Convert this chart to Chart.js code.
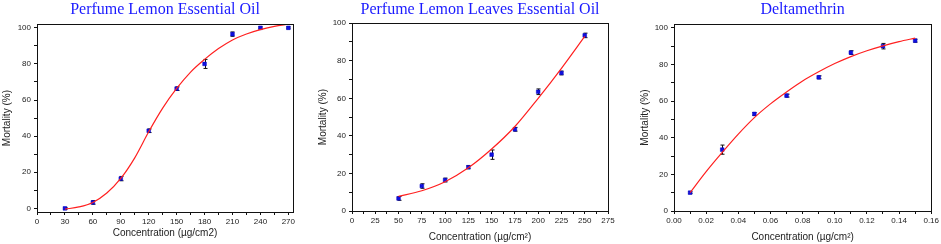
<!DOCTYPE html>
<html>
<head>
<meta charset="utf-8">
<script src="https://cdn.jsdelivr.net/npm/chart.js@4.4.1/dist/chart.umd.min.js"></script>
<style>
  html, body { margin: 0; padding: 0; background: #fff; }
  #wrap { position: relative; width: 941px; height: 244px; }
  canvas { position: absolute; top: 0; }
</style>
</head>
<body>
<div id="wrap">
  <canvas id="c1" width="310" height="244" style="left:0px"></canvas>
  <canvas id="c2" width="310" height="244" style="left:310px"></canvas>
  <canvas id="c3" width="321" height="244" style="left:620px"></canvas>
</div>
<script>
// Perfume Lemon Essential Oil
const lemonX = [30, 60, 90, 120, 150, 180, 210, 240, 270];
const lemonY = [0, 3.3, 16.5, 43, 66.3, 80, 96.5, 100, 100];
const lemonErr = [0.5, 1, 1.2, 1, 1, 2.5, 1.2, 0.5, 0.5];
const lemonFitX = [30, 45, 60, 75, 90, 105, 120, 135, 150, 165, 180, 195, 210, 225, 240, 255, 270];
const lemonFitY = [-0.4, 0.8, 3.3, 8.5, 16.6, 28, 42.4, 55.5, 66.4, 75.5, 82.5, 88.5, 93.3, 96.6, 99, 100.8, 102];

// Perfume Lemon Leaves Essential Oil
const leavesX = [50, 75, 100, 125, 150, 175, 200, 225, 250];
const leavesY = [6.7, 13.3, 16.5, 23.3, 30, 43.5, 63.5, 73.5, 93.5];
const leavesErr = [1, 1.2, 1, 0.8, 2.5, 1, 1.5, 1, 1.2];
const leavesFitX = [50, 75, 100, 125, 150, 175, 200, 225, 250];
const leavesFitY = [7.8, 10.8, 15.6, 23, 33, 45, 60, 76, 93];

// Deltamethrin
const deltaX = [0.01, 0.03, 0.05, 0.07, 0.09, 0.11, 0.13, 0.15];
const deltaY = [10, 33.5, 53, 63, 73, 86.5, 90, 93];
const deltaErr = [0.5, 2.5, 0.8, 0.8, 0.8, 1, 1.5, 0.8];
const deltaFitX = [0.01, 0.02, 0.03, 0.04, 0.05, 0.06, 0.07, 0.08, 0.09, 0.10, 0.11, 0.12, 0.13, 0.14, 0.15];
const deltaFitY = [10, 21.5, 32, 42, 51, 58.5, 65, 71, 76, 80.5, 84.3, 87.5, 90.2, 92.5, 94.4];

const toPoints = (xs, ys) => xs.map((x, i) => ({ x: x, y: ys[i] }));

// box round the plot + error bars
const framePlugin = {
  id: 'frame',
  beforeDatasetsDraw(chart, args, opts) {
    const ctx = chart.ctx;
    const xs = chart.scales.x, ys = chart.scales.y;
    const pts = chart.data.datasets[1].data;
    ctx.save();
    ctx.strokeStyle = '#111';
    ctx.lineWidth = 1;
    (opts.err || []).forEach((e, i) => {
      const px = Math.round(xs.getPixelForValue(pts[i].x)) + 0.5;
      const y1 = ys.getPixelForValue(pts[i].y - e);
      const y2 = ys.getPixelForValue(pts[i].y + e);
      ctx.beginPath();
      ctx.moveTo(px, y1); ctx.lineTo(px, y2);
      ctx.moveTo(px - 2, y1); ctx.lineTo(px + 2, y1);
      ctx.moveTo(px - 2, y2); ctx.lineTo(px + 2, y2);
      ctx.stroke();
    });
    ctx.restore();
  },
  afterDraw(chart) {
    const a = chart.chartArea, ctx = chart.ctx;
    ctx.save();
    ctx.strokeStyle = '#111';
    ctx.lineWidth = 1;
    ctx.strokeRect(Math.round(a.left) + 0.5, Math.round(a.top) + 0.5,
      Math.round(a.right - a.left), Math.round(a.bottom - a.top));
    ctx.restore();
  }
};

function makeChart(id, cfg) {
  new Chart(document.getElementById(id), {
    type: 'scatter',
    data: {
      datasets: [
        {
          data: toPoints(cfg.fitX, cfg.fitY),
          showLine: true,
          borderColor: '#ff2020',
          borderWidth: 1.2,
          pointRadius: 0,
          cubicInterpolationMode: 'monotone'
        },
        {
          data: toPoints(cfg.x, cfg.y),
          pointStyle: 'rect',
          pointRadius: 2.6,
          backgroundColor: '#1010e0',
          borderColor: '#0000c0',
          borderWidth: 0.5
        }
      ]
    },
    options: {
      responsive: false,
      animation: false,
      devicePixelRatio: 1,
      layout: { padding: { left: 0, right: cfg.padRight, top: 0, bottom: 0 } },
      plugins: {
        legend: { display: false },
        tooltip: { enabled: false },
        title: {
          display: true,
          text: cfg.title,
          color: '#1a1aff',
          fullSize: false,
          font: { family: 'Liberation Serif', size: 16, weight: 'normal' },
          padding: { top: 0, bottom: cfg.titlePad }
        },
        frame: { err: cfg.err }
      },
      scales: {
        x: {
          type: 'linear',
          min: cfg.xMin, max: cfg.xMax,
          afterFit: s => { s.height = cfg.xAxisH; },
          border: { color: '#111', width: 1 },
          grid: { drawOnChartArea: false, tickLength: 3, tickColor: '#111' },
          ticks: {
            stepSize: cfg.xStep,
            includeBounds: false,
            maxRotation: 0,
            autoSkip: false,
            padding: 2,
            color: '#222',
            font: { family: 'Liberation Sans', size: 8 },
            callback: cfg.xLabel
          },
          title: {
            display: true,
            text: cfg.xTitle,
            color: '#222',
            font: { family: 'Liberation Sans', size: 10 },
            padding: { top: 0, bottom: cfg.xTitlePad }
          }
        },
        y: {
          type: 'linear',
          min: cfg.yMin, max: cfg.yMax,
          afterFit: s => { s.width = cfg.yAxisW; },
          border: { color: '#111', width: 1 },
          grid: { drawOnChartArea: false, tickLength: 3, tickColor: '#111' },
          ticks: {
            stepSize: 10,
            includeBounds: false,
            autoSkip: false,
            padding: 3,
            color: '#222',
            font: { family: 'Liberation Sans', size: 8 },
            callback: v => (Math.round(v) % 20 === 0 ? String(Math.round(v)) : '')
          },
          title: {
            display: true,
            text: 'Mortality (%)',
            color: '#222',
            font: { family: 'Liberation Sans', size: 10 },
            padding: { top: cfg.yTitlePad, bottom: 0 }
          }
        }
      }
    },
    plugins: [framePlugin]
  });
}

makeChart('c1', {
  title: 'Perfume Lemon Essential Oil',
  x: lemonX, y: lemonY, err: lemonErr, fitX: lemonFitX, fitY: lemonFitY,
  xMin: 0, xMax: 275, xStep: 15,
  xLabel: v => (Math.round(v) % 30 === 0 ? String(Math.round(v)) : ''),
  yMin: -2, yMax: 102,
  xTitle: 'Concentration (µg/cm2)',
  yAxisW: 37, xAxisH: 32, padRight: 17, titlePad: 5, xTitlePad: 5, yTitlePad: 1
});

makeChart('c2', {
  title: 'Perfume Lemon Leaves Essential Oil',
  x: leavesX, y: leavesY, err: leavesErr, fitX: leavesFitX, fitY: leavesFitY,
  xMin: 0, xMax: 275, xStep: 12.5,
  xLabel: v => (Math.round(v * 10) % 250 === 0 ? String(Math.round(v)) : ''),
  yMin: 0, yMax: 100,
  xTitle: 'Concentration (µg/cm²)',
  yAxisW: 42, xAxisH: 33, padRight: 12, titlePad: 4, xTitlePad: 1, yTitlePad: 7
});

makeChart('c3', {
  title: 'Deltamethrin',
  x: deltaX, y: deltaY, err: deltaErr, fitX: deltaFitX, fitY: deltaFitY,
  xMin: 0, xMax: 0.16, xStep: 0.01,
  xLabel: v => (Math.round(v * 100) % 2 === 0 ? v.toFixed(2) : ''),
  yMin: 0, yMax: 102,
  xTitle: 'Concentration (µg/cm²)',
  yAxisW: 54, xAxisH: 33, padRight: 9, titlePad: 5, xTitlePad: 1, yTitlePad: 19
});
</script>
</body>
</html>
